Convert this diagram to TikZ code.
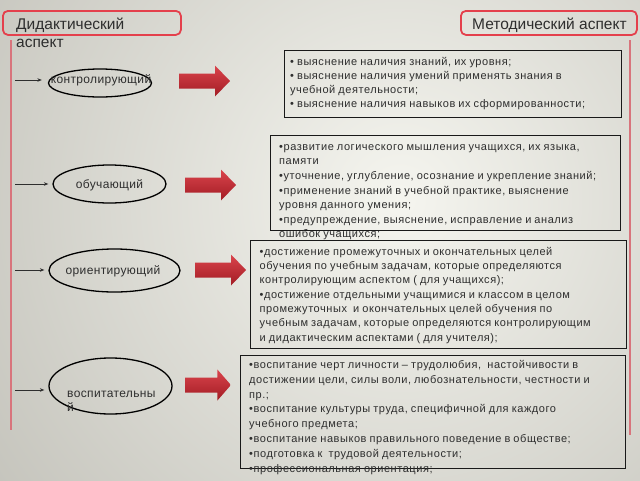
\documentclass[tikz,border=0pt]{standalone}
\usepackage{fontspec}
\setmainfont{Liberation Sans}
\newfontfamily\bodyfont[LetterSpace=5,WordSpace=0.85]{Liberation Sans}
\newfontfamily\ellfont[LetterSpace=3]{Liberation Sans}
\usetikzlibrary{arrows.meta,shapes.geometric}
\definecolor{bgin}{HTML}{F5F5EF}
\definecolor{bgout}{HTML}{8A887E}
\definecolor{redline}{HTML}{D8747C}
\definecolor{titlered}{HTML}{E4404C}
\definecolor{txt}{HTML}{2E2E2E}
\definecolor{arrtop}{HTML}{DA444C}
\definecolor{arrbot}{HTML}{A21C24}
\tikzset{
  titlebox/.style={draw=titlered, line width=1.8, rounded corners=5, inner sep=0, anchor=north west},
  titletext/.style={text=txt, inner sep=0, font=\fontsize{15.5}{18}\selectfont},
  ell/.style={draw=black, line width=1.3, ellipse, inner sep=0},
  elltext/.style={text=txt, inner sep=0, font=\ellfont\fontsize{12}{14}\selectfont},
  tbox/.style={draw=black!90, line width=1.4, inner sep=0, anchor=north west},
  btext/.style={text=txt, inner sep=0, anchor=north west, align=left},
  thinarr/.style={draw=txt, line width=0.8, -{Stealth[length=4.5pt,width=3.5pt]}, shorten >=4},
  bigarrow/.pic={\shade[top color=arrtop, bottom color=arrbot]
     (0,-7.5) -- (36,-7.5) -- (36,-15.5) -- (51,0) -- (36,15.5) -- (36,7.5) -- (0,7.5) -- cycle;}
}
\begin{document}
\begin{tikzpicture}[x=1pt,y=-1pt]
\useasboundingbox (0,0) rectangle (640,480);
\begin{scope}
  \clip (0,0) rectangle (640,480);
  \fill[bgout] (0,0) rectangle (640,480);
  \shade[inner color=bgin, outer color=bgout] (400,200) circle (1110);
\end{scope}
% red vertical lines
\coordinate (L1) at (11,40);
\coordinate (L2) at (11,430);
\coordinate (R1) at (630,40);
\coordinate (R2) at (630,435);
\draw[redline, line width=2] (L1) -- (L2);
\draw[redline, line width=2] (R1) -- (R2);
% titles
\node[titlebox, minimum width=178, minimum height=24] (tlb) at (2,10) {};
\node[titletext, anchor=north west, align=left] (tlt) at (16,16.7) {\strut Дидактический\\аспект};
\node[titlebox, minimum width=176, minimum height=24] (trb) at (460,10) {};
\node[titletext, anchor=base west] (trt) at (472,29.3) {Методический аспект};
% ellipses
\node[ell, minimum width=103, minimum height=28] (e1) at (100,83) {};
\node[elltext, anchor=base] (e1t) at (101,83) {контролирующий};
\node[ell, minimum width=113, minimum height=38] (e2) at (109.5,184) {};
\node[elltext, anchor=base] (e2t) at (109.5,188.3) {обучающий};
\node[ell, minimum width=131, minimum height=43] (e3) at (114.5,270.5) {};
\node[elltext, anchor=base] (e3t) at (113,274) {ориентирующий};
\node[ell, minimum width=123, minimum height=56] (e4) at (110.5,386) {};
\node[elltext, anchor=north west, align=left] (e4t) at (67,387.2) {\strut воспитательны\\й};
% thin arrows
\coordinate (a1) at (15,80);
\coordinate (a2) at (15,184);
\coordinate (a3) at (15,270);
\coordinate (a4) at (15,390);
\draw[thinarr, shorten >=6] (a1) -- (a1 -| e1.west);
\draw[thinarr] (a2) -- (a2 -| e2.west);
\draw[thinarr] (a3) -- (a3 -| e3.west);
\draw[thinarr] (a4) -- (a4 -| e4.west);
% block arrows
\pic at (179,81) {bigarrow};
\pic at (185,185) {bigarrow};
\pic at (195,270) {bigarrow};
\pic[xscale=0.9] at (185,385) {bigarrow};
% text boxes
\node[tbox, minimum width=337, minimum height=67] (b1) at (284,50) {};
\node[btext, font=\bodyfont\fontsize{11}{14}\selectfont] (t1) at (290,55.2) {\strut • выяснение наличия знаний, их уровня;\\
• выяснение наличия умений применять знания в\\
учебной деятельности;\\
• выяснение наличия навыков их сформированности;};
\node[tbox, minimum width=350, minimum height=95] (b2) at (270,135) {};
\node[btext, font=\bodyfont\fontsize{11}{14.6}\selectfont] (t2) at (279,139.8) {\strut •развитие логического мышления учащихся, их языка,\\
памяти\\
•уточнение, углубление, осознание и укрепление знаний;\\
•применение знаний в учебной практике, выяснение\\
уровня данного умения;\\
•предупреждение, выяснение, исправление и анализ\\
ошибок учащихся;};
\node[tbox, minimum width=376, minimum height=108] (b3) at (250,240) {};
\node[btext, font=\bodyfont\fontsize{11}{14.33}\selectfont] (t3) at (259.5,245) {\strut •достижение промежуточных и окончательных целей\\
обучения по учебным задачам, которые определяются\\
контролирующим аспектом ( для учащихся);\\
•достижение отдельными учащимися и классом в целом\\
промежуточных~ и окончательных целей обучения по\\
учебным задачам, которые определяются контролирующим\\
и дидактическим аспектами ( для учителя);};
\node[tbox, minimum width=385, minimum height=113] (b4) at (240,355) {};
\node[btext, font=\bodyfont\fontsize{11}{14.9}\selectfont] (t4) at (249,357.6) {\strut •воспитание черт личности – трудолюбия,~ настойчивости в\\
достижении цели, силы воли, любознательности, честности и\\
пр.;\\
•воспитание культуры труда, специфичной для каждого\\
учебного предмета;\\
•воспитание навыков правильного поведение в обществе;\\
•подготовка к~ трудовой деятельности;\\
•профессиональная ориентация;};
\end{tikzpicture}
\end{document}
